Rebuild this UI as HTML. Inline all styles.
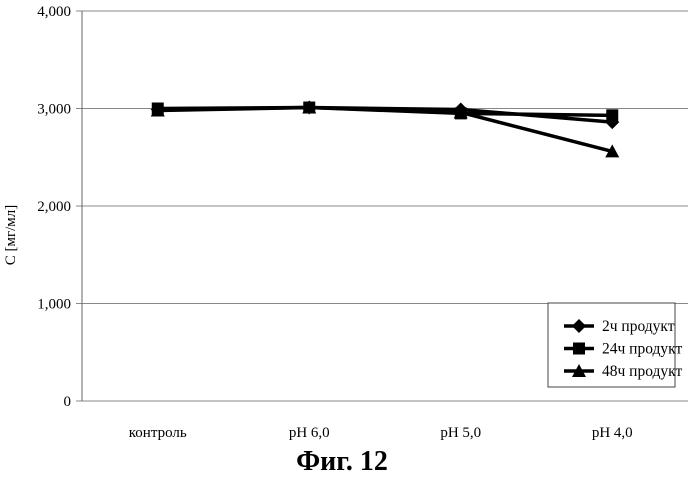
<!DOCTYPE html>
<html><head><meta charset="utf-8"><style>
body{margin:0;background:#fff;}
svg text{font-family:"Liberation Serif",serif;fill:#000;}
</style></head><body>
<svg width="699" height="489">
<g id="grid"></g><g id="series"></g>
<rect x="548" y="303" width="127" height="84" fill="#fff" stroke="#444" stroke-width="1"/>
<g id="legend"></g>
<text transform="translate(15,235) rotate(-90)" text-anchor="middle" font-size="15">C [мг/мл]</text>
<text x="342" y="470" text-anchor="middle" font-size="28" font-weight="bold">Фиг. 12</text>
</svg>
<script>
const categories=["контроль","pH 6,0","pH 5,0","pH 4,0"];
const yTicks=[0,1000,2000,3000,4000];
const yTickLabels=["0","1,000","2,000","3,000","4,000"];
const seriesNames=["2ч продукт","24ч продукт","48ч продукт"];
const s2h=[2990,3010,2990,2860];
const s24h=[3000,3010,2950,2930];
const s48h=[2980,3010,2960,2560];
const X0=82,X1=688,Y0=401,Y1=11;
const xs=i=>X0+(X1-X0)*(i+0.5)/categories.length;
const ys=v=>Y0-(Y0-Y1)*v/4000;
const NS="http://www.w3.org/2000/svg";
function mk(t,a,p){const e=document.createElementNS(NS,t);for(const k in a)e.setAttribute(k,a[k]);p.appendChild(e);return e;}
const grid=document.getElementById('grid');
yTicks.forEach((v,i)=>{
 const g=mk('line',{x1:X0-6,x2:X1,y1:ys(v),y2:ys(v),stroke:'#888','stroke-width':1},grid);
 
 
 const t=mk('text',{x:X0-11,y:ys(v)+5,'text-anchor':'end','font-size':15},grid);
 t.textContent=yTickLabels[i];
 
 
});
const ax=mk('line',{x1:X0,x2:X0,y1:Y1,y2:Y0,stroke:'#666'},grid);


categories.forEach((c,i)=>{
 const t=mk('text',{x:xs(i),y:437,'text-anchor':'middle','font-size':15},grid);
 t.textContent=c;
 
 
});
function marker(type,x,y,p){
 let e;
 if(type==0)e=mk('polygon',{points:`${x},${y-7} ${x+7},${y} ${x},${y+7} ${x-7},${y}`,fill:'#000'},p);
 else if(type==1)e=mk('rect',{x:x-6,y:y-6,width:12,height:12,fill:'#000'},p);
 else e=mk('polygon',{points:`${x},${y-7} ${x+7},${y+6} ${x-7},${y+6}`,fill:'#000'},p);
 
 
}
const sg=document.getElementById('series');
[s2h,s24h,s48h].forEach((s,k)=>{
 const pl=mk('polyline',{points:s.map((v,i)=>xs(i)+','+ys(v)).join(' '),fill:'none',stroke:'#000','stroke-width':3.5},sg);
 
 
 s.forEach((v,i)=>marker(k,xs(i),ys(v),sg));
});
const lg=document.getElementById('legend');
seriesNames.forEach((n,k)=>{
 const y=326+k*22.5;
 const l=mk('line',{x1:564,x2:594,y1:y,y2:y,stroke:'#000','stroke-width':3.5},lg);
 
 
 marker(k,579,y,lg);
 const t=mk('text',{x:602,y:y+5,'font-size':15.5},lg);
 t.textContent=n;
 
 
});
</script>
</body></html>
